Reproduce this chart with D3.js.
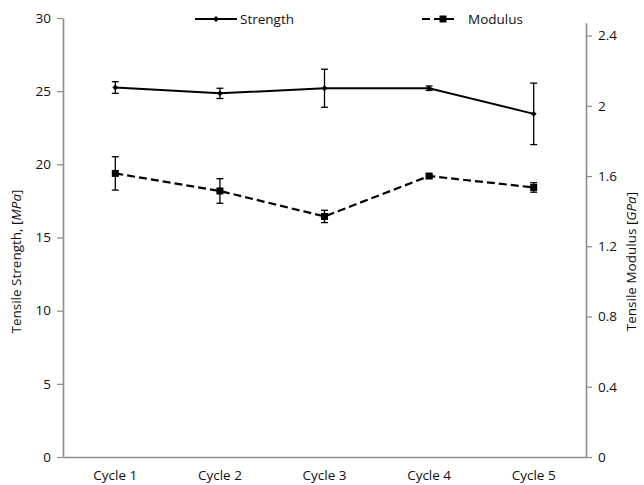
<!DOCTYPE html>
<html>
<head>
<meta charset="utf-8">
<script src="https://cdn.jsdelivr.net/npm/d3@7"></script>
<style>
  html, body { margin: 0; padding: 0; background: #fff; }
  svg { display: block; font-family: "Open Sans", "Liberation Sans", sans-serif; }
</style>
</head>
<body>
<svg id="chart" width="644" height="485"></svg>
<script>
// Tensile results over five recycling cycles
const cycles = ["Cycle 1", "Cycle 2", "Cycle 3", "Cycle 4", "Cycle 5"];
const strength = [25.25, 24.85, 25.2, 25.2, 23.45];       // MPa
const strengthErr = [0.4, 0.35, 1.3, 0.15, 2.1];
const modulus = [1.615, 1.515, 1.37, 1.6, 1.535];         // GPa
const modulusErr = [0.095, 0.07, 0.035, 0.01, 0.027];
const leftTicks = [0, 5, 10, 15, 20, 25, 30];
const rightTicks = [0, 0.4, 0.8, 1.2, 1.6, 2.0, 2.4];

const svg = d3.select("#chart");
const m = { left: 63, right: 586, top: 18, bottom: 457 };
const axisColor = "#8c8c8c";
const fs = 13.5;
const textColor = "#111";

const x = d3.scaleBand().domain(cycles).range([m.left, m.right]);
const yL = d3.scaleLinear().domain([0, 30]).range([m.bottom, m.top]);
const yR = d3.scaleLinear().domain([0, 2.5]).range([m.bottom, m.top]);
const cx = c => x(c) + x.bandwidth() / 2;

// Left axis
const gL = svg.append("g").attr("transform", `translate(${m.left},0)`)
  .call(d3.axisLeft(yL).tickValues(leftTicks).tickSize(6).tickPadding(6).tickSizeOuter(0));
// Right axis
const gR = svg.append("g").attr("transform", `translate(${m.right},0)`)
  .call(d3.axisRight(yR).tickValues(rightTicks).tickSize(6).tickPadding(6).tickSizeOuter(0)
    .tickFormat(d => d === 0 ? "0" : d3.format("~g")(d)));
gR.select(".domain").attr("d", `M0.5,${yR(2.47)}V${m.bottom}`);
// Bottom axis
const gB = svg.append("g").attr("transform", `translate(0,${m.bottom})`)
  .call(d3.axisBottom(x).tickSize(0).tickPadding(13).tickSizeOuter(0));

[gL, gR, gB].forEach(g => {
  g.selectAll(".domain").attr("stroke", axisColor).attr("stroke-width", 1.6);
  g.selectAll(".tick line").attr("stroke", axisColor).attr("stroke-width", 1.2);
  g.selectAll("text").attr("fill", textColor).attr("font-size", fs)
    .attr("font-family", "'Open Sans', sans-serif");
});

// Axis titles
const tl = svg.append("text")
  .attr("transform", `translate(21,${(m.top + m.bottom) / 2 + 24}) rotate(-90)`)
  .attr("text-anchor", "middle").attr("font-size", fs).attr("fill", textColor);
tl.append("tspan").text("Tensile Strength, [");
tl.append("tspan").attr("font-style", "italic").text("MPa");
tl.append("tspan").text("]");

const tr = svg.append("text")
  .attr("transform", `translate(636,${(m.top + m.bottom) / 2 + 24}) rotate(-90)`)
  .attr("text-anchor", "middle").attr("font-size", fs).attr("fill", textColor);
tr.append("tspan").text("Tensile Modulus [");
tr.append("tspan").attr("font-style", "italic").text("GPa");
tr.append("tspan").text("]");

// Error bars
function errorBars(vals, errs, y) {
  const g = svg.append("g").attr("stroke", "#000").attr("stroke-width", 1.3).attr("fill", "none");
  cycles.forEach((c, i) => {
    const px = cx(c), top = y(vals[i] + errs[i]), bot = y(vals[i] - errs[i]);
    g.append("line").attr("x1", px).attr("x2", px).attr("y1", top).attr("y2", bot);
    g.append("line").attr("x1", px - 3.5).attr("x2", px + 3.5).attr("y1", top).attr("y2", top);
    g.append("line").attr("x1", px - 3.5).attr("x2", px + 3.5).attr("y1", bot).attr("y2", bot);
  });
}
errorBars(strength, strengthErr, yL);
errorBars(modulus, modulusErr, yR);

// Strength series (solid, diamond markers)
const lineL = d3.line().x((d, i) => cx(cycles[i])).y(d => yL(d));
svg.append("path").datum(strength).attr("d", lineL)
  .attr("fill", "none").attr("stroke", "#000").attr("stroke-width", 2);
const diamond = d3.symbol().type(d3.symbolDiamond2).size(22);
svg.append("g").selectAll("path").data(strength).join("path")
  .attr("d", diamond)
  .attr("transform", (d, i) => `translate(${cx(cycles[i])},${yL(d)})`)
  .attr("fill", "#000");

// Modulus series (dashed, square markers)
const lineR = d3.line().x((d, i) => cx(cycles[i])).y(d => yR(d));
svg.append("path").datum(modulus).attr("d", lineR)
  .attr("fill", "none").attr("stroke", "#000").attr("stroke-width", 2.2)
  .attr("stroke-dasharray", "8,4");
svg.append("g").selectAll("rect").data(modulus).join("rect")
  .attr("x", (d, i) => cx(cycles[i]) - 3.5).attr("y", d => yR(d) - 3.5)
  .attr("width", 7).attr("height", 7).attr("fill", "#000");

// Legend
const lg = svg.append("g");
lg.append("line").attr("x1", 195).attr("x2", 237).attr("y1", 19).attr("y2", 19)
  .attr("stroke", "#000").attr("stroke-width", 2);
lg.append("path").attr("d", diamond).attr("transform", "translate(216,19)").attr("fill", "#000");
lg.append("text").attr("x", 240).attr("y", 24).attr("font-size", fs).attr("fill", textColor).text("Strength");

lg.append("line").attr("x1", 422).attr("x2", 457).attr("y1", 19).attr("y2", 19)
  .attr("stroke", "#000").attr("stroke-width", 2.2).attr("stroke-dasharray", "8,4");
lg.append("rect").attr("x", 439.5).attr("y", 15.5).attr("width", 7).attr("height", 7).attr("fill", "#000");
lg.append("text").attr("x", 468).attr("y", 24).attr("font-size", fs).attr("fill", textColor).text("Modulus");
</script>
</body>
</html>
